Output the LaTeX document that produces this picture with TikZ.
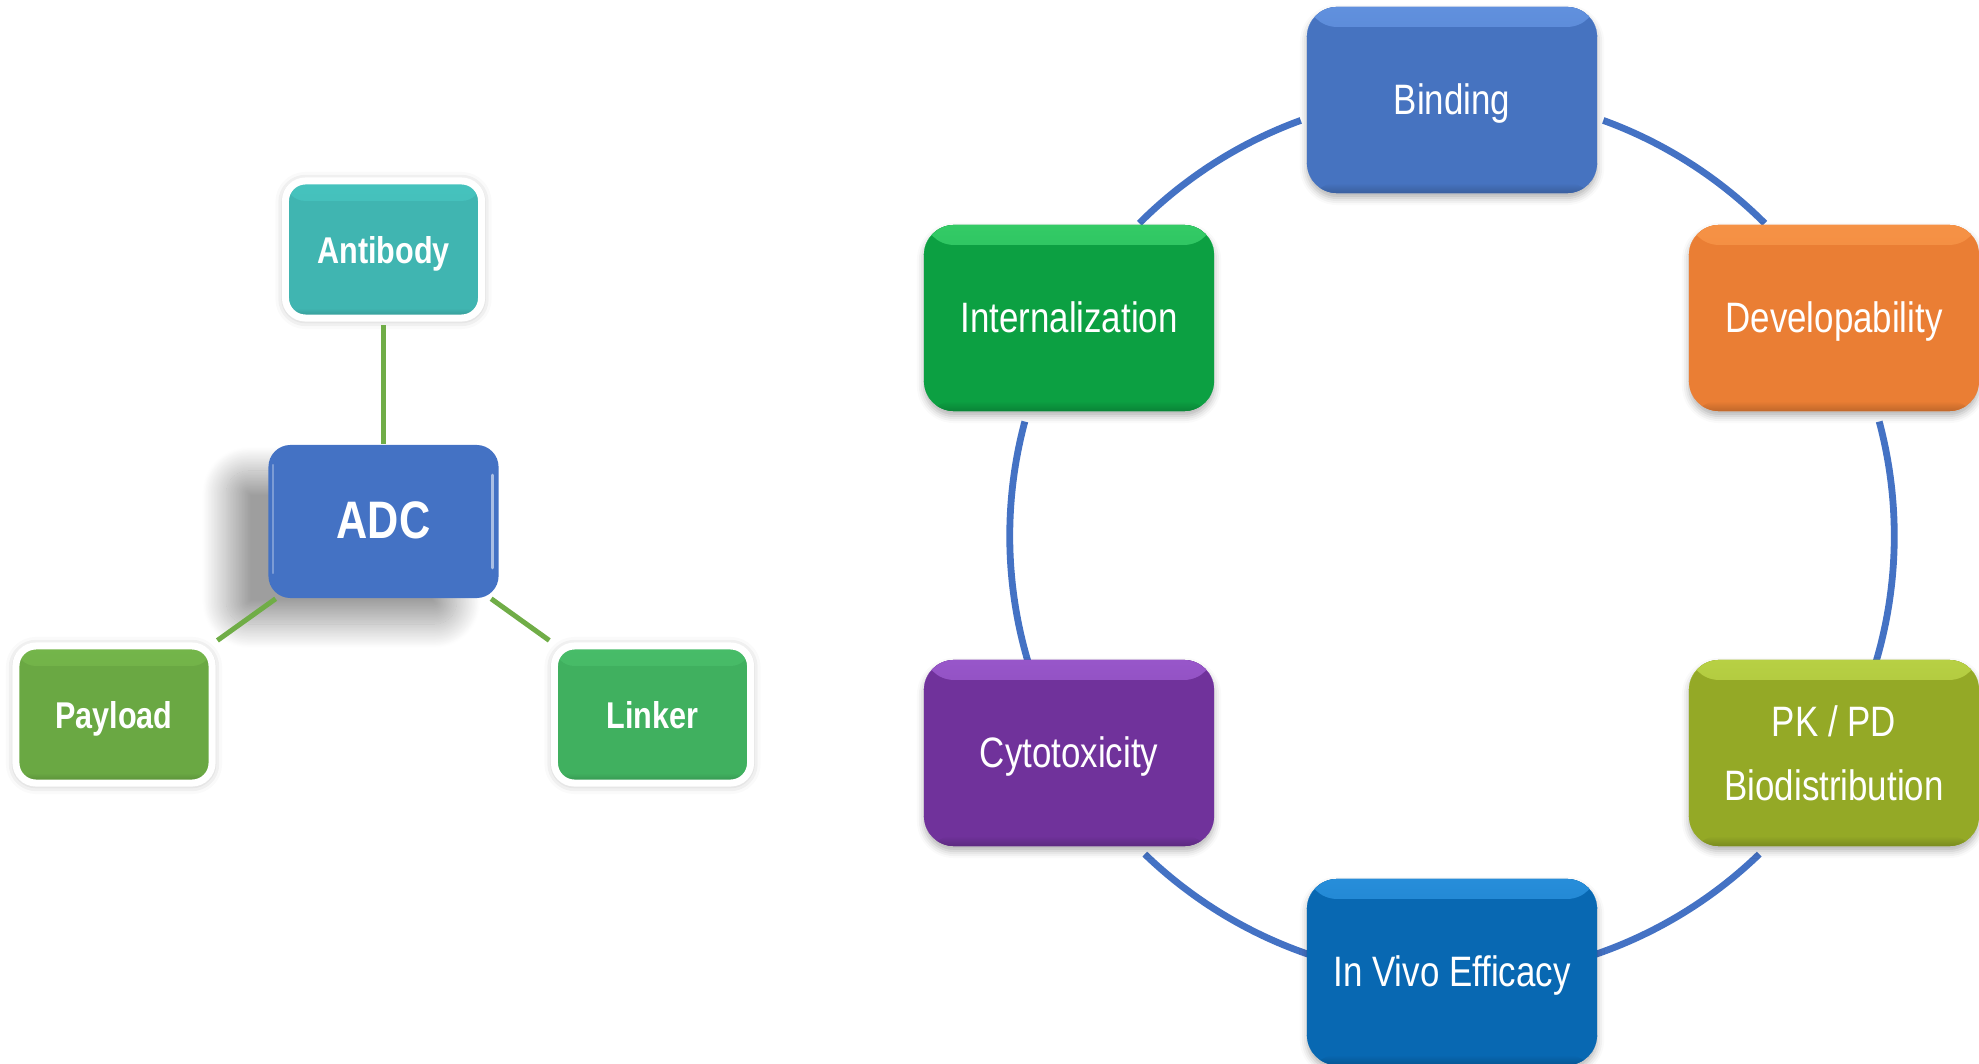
\documentclass[tikz,border=0pt]{standalone}
\usepackage{fontspec}
\setmainfont{Liberation Sans}[FakeStretch=0.82]
\usetikzlibrary{shadows.blur}

% fills and their top highlights
\definecolor{abTeal}{RGB}{64,181,177}    \definecolor{abTealHi}{RGB}{74,206,200}
\definecolor{adcBlue}{RGB}{68,114,196}   \definecolor{adcBlueHi}{RGB}{84,132,212}
\definecolor{payGreen}{RGB}{106,168,67}  \definecolor{payGreenHi}{RGB}{124,192,80}
\definecolor{lnkGreen}{RGB}{64,176,95}   \definecolor{lnkGreenHi}{RGB}{78,198,112}
\definecolor{bindBlue}{RGB}{70,115,192}  \definecolor{bindBlueHi}{RGB}{118,168,246}
\definecolor{intGreen}{RGB}{12,160,66}   \definecolor{intGreenHi}{RGB}{84,238,132}
\definecolor{devOrange}{RGB}{234,126,52} \definecolor{devOrangeHi}{RGB}{255,162,84}
\definecolor{pkOlive}{RGB}{148,169,38}   \definecolor{pkOliveHi}{RGB}{212,240,92}
\definecolor{cytPurple}{RGB}{112,50,155} \definecolor{cytPurpleHi}{RGB}{184,116,240}
\definecolor{vivoBlue}{RGB}{8,104,178}   \definecolor{vivoBlueHi}{RGB}{64,172,250}
\definecolor{linkGreen}{RGB}{112,173,71}
\definecolor{ringBlue}{RGB}{68,114,196}

\tikzset{
  gloss/.style 2 args={fill=#1, path picture={
      \fill[top color=#1!45!#2, middle color=#1!85!#2, bottom color=#1]
        (path picture bounding box.north west) rectangle
        ([yshift=-0.2cm]path picture bounding box.north east);
      \fill[top color=#1, bottom color=#1!82!black]
        ([yshift=0.10cm]path picture bounding box.south west) rectangle
        (path picture bounding box.south east);
  }},
  oneline/.style={text height=1.55ex, text depth=0pt},
  stage/.style={rounded corners=0.3cm, minimum width=2.9cm, minimum height=1.86cm,
    inner sep=0pt, text=white, align=center,
    font=\fontsize{12.1}{18.2}\selectfont,
    blur shadow={shadow xshift=0cm, shadow yshift=-0.05cm,
      shadow blur radius=0.07cm, shadow opacity=30}},
  part/.style={rounded corners=0.2cm, minimum width=1.96cm, minimum height=1.37cm,
    inner sep=0pt, draw=white, line width=0.07cm, text=white, oneline,
    font=\bfseries\fontsize{10.6}{13}\selectfont,
    blur shadow={shadow xshift=0cm, shadow yshift=-0.01cm,
      shadow blur radius=0.1cm, shadow opacity=32}},
  core/.style={rounded corners=0.22cm, minimum width=2.3cm, minimum height=1.53cm,
    inner sep=0pt, text=white, text height=1.85ex, text depth=0pt,
    font=\bfseries\fontsize{15}{18}\selectfont,
    blur shadow={shadow xshift=-0.42cm, shadow yshift=-0.26cm,
      shadow blur radius=0.24cm, shadow blur steps=40, shadow opacity=38}},
  link/.style={draw=linkGreen, line width=0.05cm},
  ring/.style={draw=ringBlue, line width=0.068cm},
}

\begin{document}
\begin{tikzpicture}[x=0.01cm, y=0.01cm]
\useasboundingbox (0,0) rectangle (1979,1063);

% ---- ADC construct ----
\node[core, gloss={adcBlue}{adcBlueHi},
  path picture={
    \draw[white, opacity=.55, line width=0.025cm, line cap=round]
      ([xshift=-0.06cm, yshift=-0.3cm]path picture bounding box.north east) --
      ([xshift=-0.06cm, yshift=0.3cm]path picture bounding box.south east);
    \draw[white, opacity=.3, line width=0.02cm, line cap=round]
      ([xshift=0.05cm, yshift=-0.2cm]path picture bounding box.north west) --
      ([xshift=0.05cm, yshift=0.25cm]path picture bounding box.south west);
  }] (adc) at (383.5,541.5) {ADC};
\node[part, gloss={abTeal}{abTealHi}]   (ab)  at (383.5,813.5) {Antibody};
\node[part, gloss={payGreen}{payGreenHi}] (pay) at (114,348.5)  {Payload};
\node[part, gloss={lnkGreen}{lnkGreenHi}] (lnk) at (652.5,348.5) {Linker};

\draw[link, shorten <=0.035cm] (ab) -- (adc);
\draw[link, shorten >=0.035cm] (adc) -- (pay);
\draw[link, shorten >=0.035cm] (adc) -- (lnk);

% ---- development cycle ----
\coordinate (hub) at (1452,527);
\draw[ring] ([shift={(110:4.42cm)}]hub) arc[start angle=110, end angle=135, radius=4.42cm];
\draw[ring] ([shift={(70:4.42cm)}]hub)  arc[start angle=70,  end angle=45,  radius=4.42cm];
\draw[ring] ([shift={(165:4.42cm)}]hub) arc[start angle=165, end angle=197, radius=4.42cm];
\draw[ring] ([shift={(15:4.42cm)}]hub)  arc[start angle=15,  end angle=-17, radius=4.42cm];
\draw[ring] ([shift={(226:4.42cm)}]hub) arc[start angle=226, end angle=251, radius=4.42cm];
\draw[ring] ([shift={(-46:4.42cm)}]hub) arc[start angle=-46, end angle=-71, radius=4.42cm];

\node[stage, oneline, gloss={bindBlue}{bindBlueHi}]   (bind) at (1452,963) {Binding};
\node[stage, oneline, gloss={intGreen}{intGreenHi}]   (intl) at (1069,745) {Internalization};
\node[stage, oneline, gloss={devOrange}{devOrangeHi}] (dev)  at (1834,745) {Developability};
\node[stage, oneline, gloss={cytPurple}{cytPurpleHi}] (cyto) at (1069,310) {Cytotoxicity};
\node[stage, gloss={pkOlive}{pkOliveHi}]              (pk)   at (1834,310) {PK / PD\\Biodistribution};
\node[stage, oneline, gloss={vivoBlue}{vivoBlueHi}]   (vivo) at (1452,91)  {In Vivo Efficacy};
\end{tikzpicture}
\end{document}
